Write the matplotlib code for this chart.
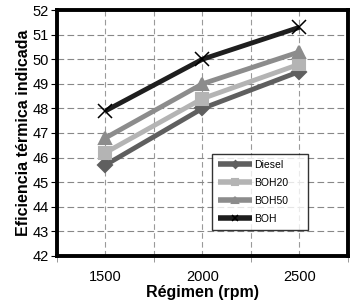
import matplotlib
matplotlib.use("Agg")
import matplotlib.pyplot as plt
from matplotlib.ticker import MultipleLocator, FixedLocator

plt.rcParams["font.family"] = ["Liberation Sans", "DejaVu Sans"]

RPM = [1500, 2000, 2500]
DIESEL = [45.7, 48.0, 49.5]
BOH20 = [46.2, 48.4, 49.8]
BOH50 = [46.8, 49.0, 50.3]
BOH = [47.9, 50.0, 51.3]

SERIES = [
    ("Diesel", DIESEL, "#5f5f5f", "D", 7),
    ("BOH20", BOH20, "#b4b4b4", "s", 9),
    ("BOH50", BOH50, "#8c8c8c", "^", 9),
    ("BOH", BOH, "#1e1e1e", "x", 10),
]

fig = plt.figure(figsize=(3.54, 3.05), dpi=100)
ax = fig.add_axes([0.161, 0.161, 0.822, 0.806])

for name, vals, col, mk, ms in SERIES:
    ax.plot(RPM, vals, color=col, lw=3.5, marker=mk, ms=ms,
            mew=1.1 if mk == "x" else 1.5,
            mec=col if mk != "x" else "#000000", mfc=col, label=name,
            solid_capstyle="butt")

ax.set_xlim(1250, 2750)
ax.set_ylim(42, 52)
ax.xaxis.set_major_locator(FixedLocator(RPM))
ax.xaxis.set_minor_locator(FixedLocator([1250, 1750, 2250, 2750]))
ax.yaxis.set_major_locator(MultipleLocator(1))
ax.tick_params(axis="x", which="major", length=0, labelsize=10.5, pad=10)
ax.tick_params(axis="x", which="minor", length=4, direction="out", color="#888888")
ax.tick_params(axis="y", length=4, direction="out", labelsize=10.5, pad=2)

for x in range(1500, 2750, 250):
    ax.axvline(x, color="#9a9a9a", lw=0.8, ls=(0, (5, 3)), zorder=0)
for y in range(43, 52):
    ax.axhline(y, color="#888888", lw=0.8, ls=(0, (6, 3)), zorder=0)

for s in ax.spines.values():
    s.set_linewidth(2.8)
    s.set_color("black")

ax.set_xlabel("Régimen (rpm)", fontsize=11.5, fontweight="bold", labelpad=1)
ax.set_ylabel("Eficiencia térmica indicada", fontsize=11.5, fontweight="bold", labelpad=1)

leg = ax.legend(loc="lower left", bbox_to_anchor=(0.515, 0.085, 0.365, 0.315),
                mode="expand", fontsize=7.5, frameon=True, fancybox=False,
                handlelength=3.2, markerscale=0.5, borderpad=0.6,
                labelspacing=0.75, handletextpad=0.2)
leg.get_frame().set_edgecolor("black")
leg.get_frame().set_linewidth(1.0)
for line in leg.get_lines():
    line.set_linewidth(4)

fig.savefig("out.png", dpi=100)
